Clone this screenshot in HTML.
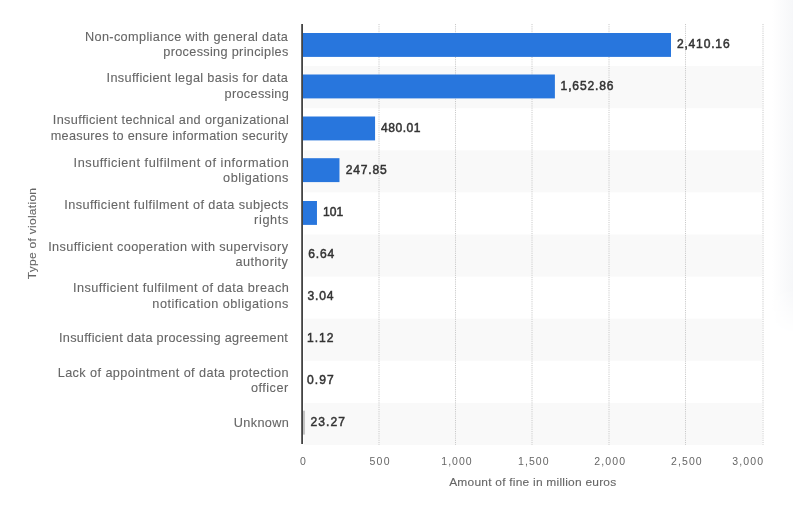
<!DOCTYPE html>
<html><head><meta charset="utf-8"><style>
html,body{margin:0;padding:0;background:#fff;width:793px;height:506px;overflow:hidden}
svg{display:block;font-family:"Liberation Sans",sans-serif;will-change:transform}
</style></head><body>
<svg width="793" height="506" viewBox="0 0 793 506">
<defs><linearGradient id="sh" x1="0" x2="1" y1="0" y2="0"><stop offset="0" stop-color="#ffffff"/><stop offset="1" stop-color="#f6f7f9"/></linearGradient>
<linearGradient id="fv" x1="0" x2="0" y1="0" y2="1"><stop offset="0" stop-color="#fff"/><stop offset="0.57" stop-color="#fff"/><stop offset="0.66" stop-color="#000"/></linearGradient>
<mask id="mk" maskUnits="userSpaceOnUse" x="760" y="0" width="40" height="506"><rect x="760" y="0" width="40" height="506" fill="url(#fv)"/></mask></defs>
<rect x="772" y="0" width="21" height="506" fill="url(#sh)" mask="url(#mk)"/>
<rect x="304" y="66.1" width="458" height="42.1" fill="#f9f9f9"/>
<rect x="304" y="150.3" width="458" height="42.1" fill="#f9f9f9"/>
<rect x="304" y="234.5" width="458" height="42.1" fill="#f9f9f9"/>
<rect x="304" y="318.7" width="458" height="42.1" fill="#f9f9f9"/>
<rect x="304" y="402.9" width="458" height="42.1" fill="#f9f9f9"/>
<line x1="379" y1="24" x2="379" y2="445" stroke="#c8c8c8" stroke-width="1" stroke-dasharray="1.1,1.1"/>
<line x1="455.5" y1="24" x2="455.5" y2="445" stroke="#c8c8c8" stroke-width="1" stroke-dasharray="1.1,1.1"/>
<line x1="532" y1="24" x2="532" y2="445" stroke="#c8c8c8" stroke-width="1" stroke-dasharray="1.1,1.1"/>
<line x1="609" y1="24" x2="609" y2="445" stroke="#c8c8c8" stroke-width="1" stroke-dasharray="1.1,1.1"/>
<line x1="685.5" y1="24" x2="685.5" y2="445" stroke="#c8c8c8" stroke-width="1" stroke-dasharray="1.1,1.1"/>
<line x1="763" y1="24" x2="763" y2="445" stroke="#c8c8c8" stroke-width="1" stroke-dasharray="1.1,1.1"/>
<rect x="303" y="33.0" width="368.00" height="23.9" fill="#2876dd"/>
<rect x="303" y="74.5" width="251.89" height="23.9" fill="#2876dd"/>
<rect x="303" y="116.5" width="72.07" height="23.9" fill="#2876dd"/>
<rect x="303" y="158.2" width="36.47" height="23.9" fill="#2876dd"/>
<rect x="303" y="201.0" width="13.96" height="23.9" fill="#2876dd"/>
<rect x="303" y="410.7" width="2.04" height="23.9" fill="#c4c4c4"/>
<rect x="301.2" y="24" width="1.8" height="420" fill="#444"/>
<text transform="translate(676.88,48.10) scale(0.93,1)" font-size="13" fill="#333" stroke="#333" stroke-width="0.5" textLength="56.70" lengthAdjust="spacing">2,410.16</text>
<text transform="translate(560.62,90.14) scale(0.93,1)" font-size="13" fill="#333" stroke="#333" stroke-width="0.5" textLength="56.77" lengthAdjust="spacing">1,652.86</text>
<text transform="translate(381.02,132.18) scale(0.93,1)" font-size="13" fill="#333" stroke="#333" stroke-width="0.5" textLength="42.49" lengthAdjust="spacing">480.01</text>
<text transform="translate(345.69,174.22) scale(0.93,1)" font-size="13" fill="#333" stroke="#333" stroke-width="0.5" textLength="44.13" lengthAdjust="spacing">247.85</text>
<text transform="translate(323.12,216.26) scale(0.93,1)" font-size="13" fill="#333" stroke="#333" stroke-width="0.5" textLength="21.70" lengthAdjust="spacing">101</text>
<text transform="translate(308.29,258.30) scale(0.93,1)" font-size="13" fill="#333" stroke="#333" stroke-width="0.5" textLength="27.80" lengthAdjust="spacing">6.64</text>
<text transform="translate(307.59,300.34) scale(0.93,1)" font-size="13" fill="#333" stroke="#333" stroke-width="0.5" textLength="27.80" lengthAdjust="spacing">3.04</text>
<text transform="translate(306.92,342.38) scale(0.93,1)" font-size="13" fill="#333" stroke="#333" stroke-width="0.5" textLength="28.55" lengthAdjust="spacing">1.12</text>
<text transform="translate(306.99,384.42) scale(0.93,1)" font-size="13" fill="#333" stroke="#333" stroke-width="0.5" textLength="28.80" lengthAdjust="spacing">0.97</text>
<text transform="translate(310.59,426.46) scale(0.93,1)" font-size="13" fill="#333" stroke="#333" stroke-width="0.5" textLength="36.85" lengthAdjust="spacing">23.27</text>
<text transform="translate(84.99,40.85) scale(1.06,1)" font-size="12" fill="#666" stroke="#666" stroke-width="0.1" textLength="191.41" lengthAdjust="spacing">Non-compliance with general data</text>
<text transform="translate(163.26,55.80) scale(1.06,1)" font-size="12" fill="#666" stroke="#666" stroke-width="0.1" textLength="117.95" lengthAdjust="spacing">processing principles</text>
<text transform="translate(106.59,81.80) scale(1.06,1)" font-size="12" fill="#666" stroke="#666" stroke-width="0.1" textLength="171.06" lengthAdjust="spacing">Insufficient legal basis for data</text>
<text transform="translate(224.56,97.50) scale(1.06,1)" font-size="12" fill="#666" stroke="#666" stroke-width="0.1" textLength="60.59" lengthAdjust="spacing">processing</text>
<text transform="translate(52.79,123.80) scale(1.06,1)" font-size="12" fill="#666" stroke="#666" stroke-width="0.1" textLength="222.60" lengthAdjust="spacing">Insufficient technical and organizational</text>
<text transform="translate(50.75,139.80) scale(1.06,1)" font-size="12" fill="#666" stroke="#666" stroke-width="0.1" textLength="223.71" lengthAdjust="spacing">measures to ensure information security</text>
<text transform="translate(73.59,166.90) scale(1.06,1)" font-size="12" fill="#666" stroke="#666" stroke-width="0.1" textLength="203.02" lengthAdjust="spacing">Insufficient fulfilment of information</text>
<text transform="translate(223.12,181.80) scale(1.06,1)" font-size="12" fill="#666" stroke="#666" stroke-width="0.1" textLength="61.54" lengthAdjust="spacing">obligations</text>
<text transform="translate(64.19,208.80) scale(1.06,1)" font-size="12" fill="#666" stroke="#666" stroke-width="0.1" textLength="211.48" lengthAdjust="spacing">Insufficient fulfilment of data subjects</text>
<text transform="translate(254.06,223.60) scale(1.06,1)" font-size="12" fill="#666" stroke="#666" stroke-width="0.1" textLength="32.32" lengthAdjust="spacing">rights</text>
<text transform="translate(48.19,250.80) scale(1.06,1)" font-size="12" fill="#666" stroke="#666" stroke-width="0.1" textLength="226.25" lengthAdjust="spacing">Insufficient cooperation with supervisory</text>
<text transform="translate(235.52,265.60) scale(1.06,1)" font-size="12" fill="#666" stroke="#666" stroke-width="0.1" textLength="49.49" lengthAdjust="spacing">authority</text>
<text transform="translate(73.09,292.20) scale(1.06,1)" font-size="12" fill="#666" stroke="#666" stroke-width="0.1" textLength="203.51" lengthAdjust="spacing">Insufficient fulfilment of data breach</text>
<text transform="translate(152.36,308.00) scale(1.06,1)" font-size="12" fill="#666" stroke="#666" stroke-width="0.1" textLength="128.25" lengthAdjust="spacing">notification obligations</text>
<text transform="translate(59.04,341.80) scale(1.06,1)" font-size="12" fill="#666" stroke="#666" stroke-width="0.1" textLength="215.86" lengthAdjust="spacing">Insufficient data processing agreement</text>
<text transform="translate(57.69,376.90) scale(1.06,1)" font-size="12" fill="#666" stroke="#666" stroke-width="0.1" textLength="217.87" lengthAdjust="spacing">Lack of appointment of data protection</text>
<text transform="translate(251.02,392.40) scale(1.06,1)" font-size="12" fill="#666" stroke="#666" stroke-width="0.1" textLength="35.06" lengthAdjust="spacing">officer</text>
<text transform="translate(233.86,426.60) scale(1.06,1)" font-size="12" fill="#666" stroke="#666" stroke-width="0.1" textLength="51.81" lengthAdjust="spacing">Unknown</text>
<text transform="translate(300.05,464.80) scale(1.0,1)" font-size="10.5" fill="#666" textLength="6.09" lengthAdjust="spacing">0</text>
<text transform="translate(369.40,464.80) scale(1.0,1)" font-size="10.5" fill="#666" textLength="20.08" lengthAdjust="spacing">500</text>
<text transform="translate(441.25,464.80) scale(1.0,1)" font-size="10.5" fill="#666" textLength="30.43" lengthAdjust="spacing">1,000</text>
<text transform="translate(518.05,464.80) scale(1.0,1)" font-size="10.5" fill="#666" textLength="30.53" lengthAdjust="spacing">1,500</text>
<text transform="translate(594.30,464.80) scale(1.0,1)" font-size="10.5" fill="#666" textLength="30.78" lengthAdjust="spacing">2,000</text>
<text transform="translate(671.10,464.80) scale(1.0,1)" font-size="10.5" fill="#666" textLength="30.58" lengthAdjust="spacing">2,500</text>
<text transform="translate(732.30,464.80) scale(1.0,1)" font-size="10.5" fill="#666" textLength="30.78" lengthAdjust="spacing">3,000</text>
<text transform="translate(449.15,485.70) scale(1.14,1)" font-size="10.5" fill="#666" stroke="#666" stroke-width="0.1" textLength="146.55" lengthAdjust="spacing">Amount of fine in million euros</text>
<text transform="translate(36.10,279.13) rotate(-90) scale(1.14,1)" font-size="10.5" fill="#666" stroke="#666" stroke-width="0.1" textLength="79.93" lengthAdjust="spacing">Type of violation</text>
</svg></body></html>
